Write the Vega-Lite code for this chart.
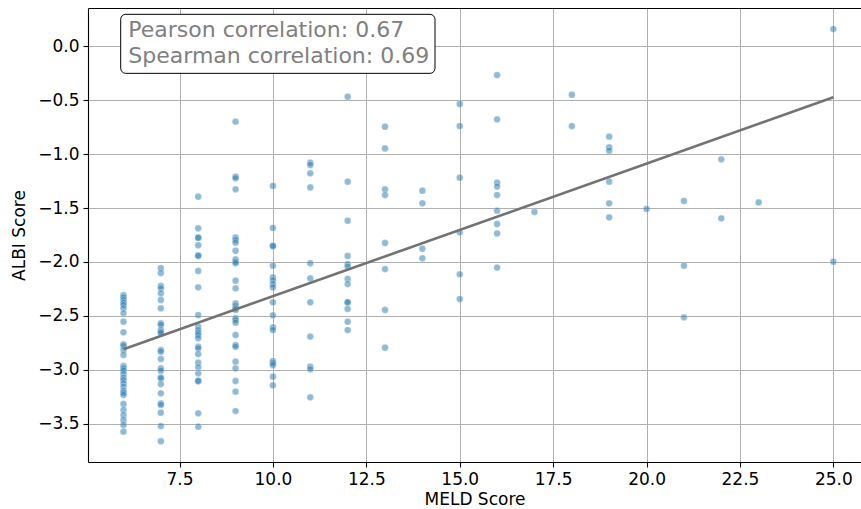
{
  "$schema": "https://vega.github.io/schema/vega-lite/v6.json",
  "width": 773,
  "height": 454,
  "autosize": {"type": "none"},
  "padding": {"left": 88, "top": 8, "right": 0, "bottom": 47},
  "background": "white",
  "config": {
    "view": {"stroke": null},
    "font": "DejaVu Sans",
    "axis": {
      "domainColor": "black",
      "domainWidth": 1.1,
      "tickColor": "black",
      "tickSize": 5,
      "tickWidth": 1.1,
      "labelFontSize": 17,
      "labelColor": "black",
      "labelFont": "DejaVu Sans",
      "titleFont": "DejaVu Sans",
      "titleFontSize": 17,
      "titleFontWeight": "normal",
      "titleColor": "black",
      "gridColor": "#b0b0b0",
      "gridWidth": 1,
      "labelPadding": 4
    }
  },
  "datasets": {
    "pts": [
      {"MELD":6,"ALBI":-2.306},{"MELD":6,"ALBI":-2.327},{"MELD":6,"ALBI":-2.352},{"MELD":6,"ALBI":-2.377},{"MELD":6,"ALBI":-2.398},{"MELD":6,"ALBI":-2.429},{"MELD":6,"ALBI":-2.475},{"MELD":6,"ALBI":-2.553},{"MELD":6,"ALBI":-2.651},{"MELD":6,"ALBI":-2.762},{"MELD":6,"ALBI":-2.775},{"MELD":6,"ALBI":-2.815},{"MELD":6,"ALBI":-2.861},{"MELD":6,"ALBI":-2.963},{"MELD":6,"ALBI":-2.985},{"MELD":6,"ALBI":-3.006},{"MELD":6,"ALBI":-3.037},{"MELD":6,"ALBI":-3.071},{"MELD":6,"ALBI":-3.093},{"MELD":6,"ALBI":-3.123},{"MELD":6,"ALBI":-3.154},{"MELD":6,"ALBI":-3.191},{"MELD":6,"ALBI":-3.21},{"MELD":6,"ALBI":-3.231},{"MELD":6,"ALBI":-3.315},{"MELD":6,"ALBI":-3.37},{"MELD":6,"ALBI":-3.417},{"MELD":6,"ALBI":-3.463},{"MELD":6,"ALBI":-3.509},{"MELD":6,"ALBI":-3.571},
      {"MELD":7,"ALBI":-2.056},{"MELD":7,"ALBI":-2.102},{"MELD":7,"ALBI":-2.222},{"MELD":7,"ALBI":-2.244},{"MELD":7,"ALBI":-2.29},{"MELD":7,"ALBI":-2.352},{"MELD":7,"ALBI":-2.429},{"MELD":7,"ALBI":-2.568},{"MELD":7,"ALBI":-2.583},{"MELD":7,"ALBI":-2.63},{"MELD":7,"ALBI":-2.645},{"MELD":7,"ALBI":-2.66},{"MELD":7,"ALBI":-2.815},{"MELD":7,"ALBI":-2.83},{"MELD":7,"ALBI":-2.898},{"MELD":7,"ALBI":-2.985},{"MELD":7,"ALBI":-3.006},{"MELD":7,"ALBI":-3.068},{"MELD":7,"ALBI":-3.077},{"MELD":7,"ALBI":-3.13},{"MELD":7,"ALBI":-3.216},{"MELD":7,"ALBI":-3.31},{"MELD":7,"ALBI":-3.324},{"MELD":7,"ALBI":-3.395},{"MELD":7,"ALBI":-3.519},{"MELD":7,"ALBI":-3.66},
      {"MELD":8,"ALBI":-1.395},{"MELD":8,"ALBI":-1.688},{"MELD":8,"ALBI":-1.775},{"MELD":8,"ALBI":-1.775},{"MELD":8,"ALBI":-1.845},{"MELD":8,"ALBI":-1.938},{"MELD":8,"ALBI":-1.944},{"MELD":8,"ALBI":-2.083},{"MELD":8,"ALBI":-2.234},{"MELD":8,"ALBI":-2.491},{"MELD":8,"ALBI":-2.599},{"MELD":8,"ALBI":-2.63},{"MELD":8,"ALBI":-2.655},{"MELD":8,"ALBI":-2.676},{"MELD":8,"ALBI":-2.706},{"MELD":8,"ALBI":-2.784},{"MELD":8,"ALBI":-2.799},{"MELD":8,"ALBI":-2.852},{"MELD":8,"ALBI":-2.932},{"MELD":8,"ALBI":-2.975},{"MELD":8,"ALBI":-3.031},{"MELD":8,"ALBI":-3.102},{"MELD":8,"ALBI":-3.102},{"MELD":8,"ALBI":-3.401},{"MELD":8,"ALBI":-3.525},
      {"MELD":9,"ALBI":-0.70},{"MELD":9,"ALBI":-1.21},{"MELD":9,"ALBI":-1.225},{"MELD":9,"ALBI":-1.327},{"MELD":9,"ALBI":-1.772},{"MELD":9,"ALBI":-1.796},{"MELD":9,"ALBI":-1.821},{"MELD":9,"ALBI":-1.895},{"MELD":9,"ALBI":-1.975},{"MELD":9,"ALBI":-1.997},{"MELD":9,"ALBI":-2.012},{"MELD":9,"ALBI":-2.173},{"MELD":9,"ALBI":-2.244},{"MELD":9,"ALBI":-2.383},{"MELD":9,"ALBI":-2.407},{"MELD":9,"ALBI":-2.429},{"MELD":9,"ALBI":-2.444},{"MELD":9,"ALBI":-2.521},{"MELD":9,"ALBI":-2.537},{"MELD":9,"ALBI":-2.562},{"MELD":9,"ALBI":-2.676},{"MELD":9,"ALBI":-2.769},{"MELD":9,"ALBI":-2.784},{"MELD":9,"ALBI":-2.923},{"MELD":9,"ALBI":-2.985},{"MELD":9,"ALBI":-3.102},{"MELD":9,"ALBI":-3.201},{"MELD":9,"ALBI":-3.38},
      {"MELD":10,"ALBI":-1.296},{"MELD":10,"ALBI":-1.685},{"MELD":10,"ALBI":-1.852},{"MELD":10,"ALBI":-1.852},{"MELD":10,"ALBI":-2.034},{"MELD":10,"ALBI":-2.142},{"MELD":10,"ALBI":-2.17},{"MELD":10,"ALBI":-2.205},{"MELD":10,"ALBI":-2.235},{"MELD":10,"ALBI":-2.373},{"MELD":10,"ALBI":-2.494},{"MELD":10,"ALBI":-2.605},{"MELD":10,"ALBI":-2.63},{"MELD":10,"ALBI":-2.917},{"MELD":10,"ALBI":-2.935},{"MELD":10,"ALBI":-2.955},{"MELD":10,"ALBI":-3.062},{"MELD":10,"ALBI":-3.142},
      {"MELD":11,"ALBI":-1.08},{"MELD":11,"ALBI":-1.102},{"MELD":11,"ALBI":-1.179},{"MELD":11,"ALBI":-1.309},{"MELD":11,"ALBI":-2.012},{"MELD":11,"ALBI":-2.151},{"MELD":11,"ALBI":-2.373},{"MELD":11,"ALBI":-2.691},{"MELD":11,"ALBI":-2.969},{"MELD":11,"ALBI":-2.994},{"MELD":11,"ALBI":-3.253},
      {"MELD":12,"ALBI":-0.469},{"MELD":12,"ALBI":-1.256},{"MELD":12,"ALBI":-1.617},{"MELD":12,"ALBI":-1.944},{"MELD":12,"ALBI":-2.019},{"MELD":12,"ALBI":-2.043},{"MELD":12,"ALBI":-2.157},{"MELD":12,"ALBI":-2.204},{"MELD":12,"ALBI":-2.373},{"MELD":12,"ALBI":-2.373},{"MELD":12,"ALBI":-2.435},{"MELD":12,"ALBI":-2.553},{"MELD":12,"ALBI":-2.63},
      {"MELD":13,"ALBI":-0.747},{"MELD":13,"ALBI":-0.948},{"MELD":13,"ALBI":-1.327},{"MELD":13,"ALBI":-1.38},{"MELD":13,"ALBI":-1.824},{"MELD":13,"ALBI":-2.065},{"MELD":13,"ALBI":-2.444},{"MELD":13,"ALBI":-2.793},
      {"MELD":14,"ALBI":-1.34},{"MELD":14,"ALBI":-1.457},{"MELD":14,"ALBI":-1.877},{"MELD":14,"ALBI":-1.966},
      {"MELD":15,"ALBI":-0.537},{"MELD":15,"ALBI":-0.741},{"MELD":15,"ALBI":-1.219},{"MELD":15,"ALBI":-1.725},{"MELD":15,"ALBI":-2.114},{"MELD":15,"ALBI":-2.343},
      {"MELD":16,"ALBI":-0.269},{"MELD":16,"ALBI":-0.679},{"MELD":16,"ALBI":-1.265},{"MELD":16,"ALBI":-1.302},{"MELD":16,"ALBI":-1.38},{"MELD":16,"ALBI":-1.525},{"MELD":16,"ALBI":-1.648},{"MELD":16,"ALBI":-1.735},{"MELD":16,"ALBI":-2.052},
      {"MELD":17,"ALBI":-1.537},
      {"MELD":18,"ALBI":-0.451},{"MELD":18,"ALBI":-0.741},
      {"MELD":19,"ALBI":-0.84},{"MELD":19,"ALBI":-0.938},{"MELD":19,"ALBI":-0.969},{"MELD":19,"ALBI":-1.256},{"MELD":19,"ALBI":-1.457},{"MELD":19,"ALBI":-1.586},
      {"MELD":20,"ALBI":-1.509},
      {"MELD":21,"ALBI":-1.435},{"MELD":21,"ALBI":-2.034},{"MELD":21,"ALBI":-2.512},
      {"MELD":22,"ALBI":-1.049},{"MELD":22,"ALBI":-1.596},
      {"MELD":23,"ALBI":-1.448},
      {"MELD":25,"ALBI":0.157},{"MELD":25,"ALBI":-1.997}
    ],
    "fit": [
      {"MELD":6,"ALBI":-2.808},
      {"MELD":25,"ALBI":-0.475}
    ],
    "note": [
      {"line1":"Pearson correlation: 0.67","line2":"Spearman correlation: 0.69"}
    ]
  },
  "layer": [
    {
      "data": {"name": "pts"},
      "mark": {"type": "point", "filled": true, "shape": "circle", "size": 46, "color": "#1f77b4", "fillOpacity": 0.5, "stroke": "white", "strokeWidth": 0.6, "strokeOpacity": 0.5},
      "encoding": {
        "x": {"field": "MELD", "type": "quantitative", "title": "MELD Score",
          "scale": {"domain": [5.05, 25.74], "nice": false, "zero": false},
          "axis": {"orient": "bottom", "values": [7.5,10,12.5,15,17.5,20,22.5,25], "format": ".1f", "grid": true, "titlePadding": 4}},
        "y": {"field": "ALBI", "type": "quantitative", "title": "ALBI Score",
          "scale": {"domain": [-3.852, 0.352], "nice": false, "zero": false},
          "axis": {"values": [-3.5,-3,-2.5,-2,-1.5,-1,-0.5,0], "format": ".1f", "grid": true, "titlePadding": 9}}
      }
    },
    {
      "data": {"name": "fit"},
      "mark": {"type": "line", "color": "#737373", "strokeWidth": 2.6},
      "encoding": {
        "x": {"field": "MELD", "type": "quantitative", "title": null,
          "scale": {"domain": [5.05, 25.74], "nice": false, "zero": false},
          "axis": {"orient": "top", "labels": false, "ticks": false, "grid": false, "domain": true, "title": null}},
        "y": {"field": "ALBI", "type": "quantitative", "title": "ALBI Score",
          "scale": {"domain": [-3.852, 0.352], "nice": false, "zero": false}}
      }
    },
    {
      "data": {"name": "note"},
      "mark": {"type": "rect", "fill": "white", "stroke": "black", "strokeWidth": 1, "cornerRadius": 5},
      "encoding": {
        "x": {"datum": 5.925, "type": "quantitative", "axis": null, "scale": {"domain": [5.05, 25.74], "nice": false, "zero": false}},
        "x2": {"datum": 14.338},
        "y": {"datum": 0.2935, "type": "quantitative", "title": "ALBI Score", "scale": {"domain": [-3.852, 0.352], "nice": false, "zero": false}},
        "y2": {"datum": -0.253}
      }
    },
    {
      "data": {"name": "note"},
      "mark": {"type": "text", "align": "left", "baseline": "alphabetic", "fontSize": 22, "color": "#808080", "font": "DejaVu Sans"},
      "encoding": {
        "text": {"field": "line1"},
        "x": {"datum": 6.129, "type": "quantitative", "axis": null, "scale": {"domain": [5.05, 25.74], "nice": false, "zero": false}},
        "y": {"datum": 0.0806, "type": "quantitative", "title": "ALBI Score", "scale": {"domain": [-3.852, 0.352], "nice": false, "zero": false}}
      }
    },
    {
      "data": {"name": "note"},
      "mark": {"type": "text", "align": "left", "baseline": "alphabetic", "fontSize": 22, "color": "#808080", "font": "DejaVu Sans"},
      "encoding": {
        "text": {"field": "line2"},
        "x": {"datum": 6.129, "type": "quantitative", "axis": null, "scale": {"domain": [5.05, 25.74], "nice": false, "zero": false}},
        "y": {"datum": -0.1546, "type": "quantitative", "title": "ALBI Score", "scale": {"domain": [-3.852, 0.352], "nice": false, "zero": false}}
      }
    }
  ],
  "resolve": {"axis": {"x": "independent"}}
}
